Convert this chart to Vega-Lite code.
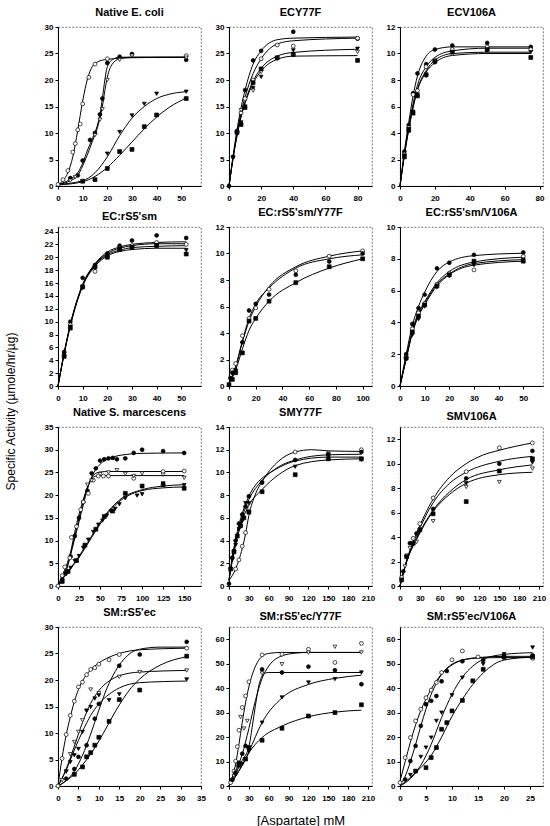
{
"$schema": "https://vega.github.io/schema/vega-lite/v6.json",
"padding": {"left": 3, "top": 6, "right": 5, "bottom": 5},
"background": "white",
"columns": 3,
"bounds": "flush",
"spacing": {"row": 41, "column": 28},
"resolve": {"scale": {"x": "independent", "y": "independent"}},
"config": {
 "font": "Liberation Sans",
 "view": {"stroke": "#555", "strokeWidth": 0.8, "strokeDash": [2, 1.5]},
 "axis": {"labelFont": "Liberation Sans", "labelFontWeight": "bold", "labelFontSize": 8, "labelColor": "black", "domainColor": "black", "domainWidth": 1, "tickColor": "black", "tickSize": 3, "grid": false, "labelFlush": false, "labelOverlap": false, "labelBound": false, "titleFont": "Liberation Sans", "titleColor": "black", "titleFontWeight": "normal"},
 "axisX": {"labelPadding": 5},
 "axisY": {"labelPadding": 2},
 "title": {"font": "Liberation Sans", "fontSize": 11, "fontWeight": "bold", "color": "black", "baseline": "alphabetic", "offset": 5.5, "frame": "group"},
 "line": {"color": "black", "strokeWidth": 1, "interpolate": "monotone"},
 "point": {"filled": true, "stroke": "black", "strokeWidth": 0.7, "size": 15, "opacity": 1}
},
"datasets": {
"f": [
{"p":1,"s":"b","x":0,"y":0.3},{"p":1,"s":"b","x":2,"y":1},{"p":1,"s":"b","x":4,"y":2.5},{"p":1,"s":"b","x":6,"y":5.5},{"p":1,"s":"b","x":8,"y":10.5},{"p":1,"s":"b","x":10,"y":16},{"p":1,"s":"b","x":12,"y":20.3},{"p":1,"s":"b","x":14,"y":22.6},{"p":1,"s":"b","x":16,"y":23.4},{"p":1,"s":"b","x":20,"y":23.9},{"p":1,"s":"b","x":30,"y":24.2},{"p":1,"s":"b","x":52,"y":24.3},
{"p":1,"s":"a","x":0,"y":0.3},{"p":1,"s":"a","x":5,"y":1.3},{"p":1,"s":"a","x":8,"y":2.5},{"p":1,"s":"a","x":10,"y":4.3},{"p":1,"s":"a","x":12,"y":6.8},{"p":1,"s":"a","x":14,"y":9},{"p":1,"s":"a","x":16,"y":11.5},{"p":1,"s":"a","x":17,"y":13.5},{"p":1,"s":"a","x":18,"y":16.5},{"p":1,"s":"a","x":19,"y":20},{"p":1,"s":"a","x":20,"y":22.5},{"p":1,"s":"a","x":22,"y":23.8},{"p":1,"s":"a","x":25,"y":24.3},{"p":1,"s":"a","x":52,"y":24.3},
{"p":1,"s":"d","x":0,"y":0.3},{"p":1,"s":"d","x":5,"y":1},{"p":1,"s":"d","x":8,"y":2},{"p":1,"s":"d","x":10,"y":3.8},{"p":1,"s":"d","x":12,"y":6},{"p":1,"s":"d","x":14,"y":8.5},{"p":1,"s":"d","x":16,"y":11},{"p":1,"s":"d","x":17,"y":12.8},{"p":1,"s":"d","x":18,"y":15},{"p":1,"s":"d","x":19,"y":18},{"p":1,"s":"d","x":20,"y":20.5},{"p":1,"s":"d","x":22,"y":23},{"p":1,"s":"d","x":25,"y":24},{"p":1,"s":"d","x":30,"y":24.3},{"p":1,"s":"d","x":52,"y":24.3},
{"p":1,"s":"c","x":0,"y":0.3},{"p":1,"s":"c","x":10,"y":1},{"p":1,"s":"c","x":15,"y":2.5},{"p":1,"s":"c","x":20,"y":5.5},{"p":1,"s":"c","x":25,"y":9.5},{"p":1,"s":"c","x":30,"y":12.8},{"p":1,"s":"c","x":35,"y":15},{"p":1,"s":"c","x":40,"y":16.5},{"p":1,"s":"c","x":45,"y":17.3},{"p":1,"s":"c","x":52,"y":17.8},
{"p":1,"s":"e","x":0,"y":0.2},{"p":1,"s":"e","x":10,"y":0.8},{"p":1,"s":"e","x":15,"y":1.8},{"p":1,"s":"e","x":20,"y":3.5},{"p":1,"s":"e","x":25,"y":5.8},{"p":1,"s":"e","x":30,"y":8.3},{"p":1,"s":"e","x":35,"y":10.8},{"p":1,"s":"e","x":40,"y":13},{"p":1,"s":"e","x":45,"y":14.8},{"p":1,"s":"e","x":52,"y":16.6},

{"p":2,"s":"a","x":0,"y":0},{"p":2,"s":"a","x":2.5,"y":5.6},{"p":2,"s":"a","x":5,"y":10.6},{"p":2,"s":"a","x":7.5,"y":14.8},{"p":2,"s":"a","x":10,"y":18.1},{"p":2,"s":"a","x":15,"y":23},{"p":2,"s":"a","x":20,"y":25.5},{"p":2,"s":"a","x":30,"y":27.6},{"p":2,"s":"a","x":40,"y":27.9},{"p":2,"s":"a","x":80,"y":28.1},
{"p":2,"s":"b","x":0,"y":0},{"p":2,"s":"b","x":2.5,"y":5.3},{"p":2,"s":"b","x":5,"y":10},{"p":2,"s":"b","x":7.5,"y":13.8},{"p":2,"s":"b","x":10,"y":16.8},{"p":2,"s":"b","x":15,"y":21.2},{"p":2,"s":"b","x":20,"y":24},{"p":2,"s":"b","x":30,"y":26.8},{"p":2,"s":"b","x":40,"y":27.4},{"p":2,"s":"b","x":80,"y":27.9},
{"p":2,"s":"c","x":0,"y":0},{"p":2,"s":"c","x":2.5,"y":5.2},{"p":2,"s":"c","x":5,"y":9.6},{"p":2,"s":"c","x":7.5,"y":13.2},{"p":2,"s":"c","x":10,"y":15.9},{"p":2,"s":"c","x":15,"y":19.8},{"p":2,"s":"c","x":20,"y":22.2},{"p":2,"s":"c","x":30,"y":24.5},{"p":2,"s":"c","x":40,"y":25.2},{"p":2,"s":"c","x":80,"y":25.8},
{"p":2,"s":"e","x":0,"y":0},{"p":2,"s":"e","x":2.5,"y":5.2},{"p":2,"s":"e","x":5,"y":9.5},{"p":2,"s":"e","x":7.5,"y":13},{"p":2,"s":"e","x":10,"y":15.6},{"p":2,"s":"e","x":15,"y":19.4},{"p":2,"s":"e","x":20,"y":21.7},{"p":2,"s":"e","x":30,"y":23.9},{"p":2,"s":"e","x":40,"y":24.5},{"p":2,"s":"e","x":80,"y":24.6},

{"p":3,"s":"a","x":0,"y":0},{"p":3,"s":"a","x":2.5,"y":2.6},{"p":3,"s":"a","x":5,"y":4.8},{"p":3,"s":"a","x":7.5,"y":6.8},{"p":3,"s":"a","x":10,"y":8.3},{"p":3,"s":"a","x":15,"y":9.8},{"p":3,"s":"a","x":20,"y":10.3},{"p":3,"s":"a","x":30,"y":10.5},{"p":3,"s":"a","x":50,"y":10.5},{"p":3,"s":"a","x":75,"y":10.5},
{"p":3,"s":"b","x":0,"y":0},{"p":3,"s":"b","x":2.5,"y":2.4},{"p":3,"s":"b","x":5,"y":4.5},{"p":3,"s":"b","x":7.5,"y":6.2},{"p":3,"s":"b","x":10,"y":7.6},{"p":3,"s":"b","x":15,"y":9},{"p":3,"s":"b","x":20,"y":9.7},{"p":3,"s":"b","x":30,"y":10.2},{"p":3,"s":"b","x":50,"y":10.4},{"p":3,"s":"b","x":75,"y":10.4},
{"p":3,"s":"c","x":0,"y":0},{"p":3,"s":"c","x":2.5,"y":2.3},{"p":3,"s":"c","x":5,"y":4.3},{"p":3,"s":"c","x":7.5,"y":6},{"p":3,"s":"c","x":10,"y":7.3},{"p":3,"s":"c","x":15,"y":8.7},{"p":3,"s":"c","x":20,"y":9.5},{"p":3,"s":"c","x":30,"y":10},{"p":3,"s":"c","x":50,"y":10.1},{"p":3,"s":"c","x":75,"y":10.1},
{"p":3,"s":"e","x":0,"y":0},{"p":3,"s":"e","x":2.5,"y":2.3},{"p":3,"s":"e","x":5,"y":4.25},{"p":3,"s":"e","x":7.5,"y":5.9},{"p":3,"s":"e","x":10,"y":7.2},{"p":3,"s":"e","x":15,"y":8.6},{"p":3,"s":"e","x":20,"y":9.3},{"p":3,"s":"e","x":30,"y":9.85},{"p":3,"s":"e","x":50,"y":10},{"p":3,"s":"e","x":75,"y":10},

{"p":4,"s":"a","x":0,"y":0},{"p":4,"s":"a","x":2.5,"y":5.2},{"p":4,"s":"a","x":5,"y":9.6},{"p":4,"s":"a","x":7.5,"y":13.1},{"p":4,"s":"a","x":10,"y":15.8},{"p":4,"s":"a","x":15,"y":19},{"p":4,"s":"a","x":20,"y":20.8},{"p":4,"s":"a","x":25,"y":21.6},{"p":4,"s":"a","x":30,"y":22},{"p":4,"s":"a","x":40,"y":22.3},{"p":4,"s":"a","x":52,"y":22.4},
{"p":4,"s":"b","x":0,"y":0},{"p":4,"s":"b","x":2.5,"y":5.1},{"p":4,"s":"b","x":5,"y":9.5},{"p":4,"s":"b","x":7.5,"y":13},{"p":4,"s":"b","x":10,"y":15.7},{"p":4,"s":"b","x":15,"y":18.9},{"p":4,"s":"b","x":20,"y":20.6},{"p":4,"s":"b","x":25,"y":21.4},{"p":4,"s":"b","x":30,"y":21.8},{"p":4,"s":"b","x":40,"y":22.1},{"p":4,"s":"b","x":52,"y":22.1},
{"p":4,"s":"c","x":0,"y":0},{"p":4,"s":"c","x":2.5,"y":5},{"p":4,"s":"c","x":5,"y":9.4},{"p":4,"s":"c","x":7.5,"y":12.9},{"p":4,"s":"c","x":10,"y":15.6},{"p":4,"s":"c","x":15,"y":18.8},{"p":4,"s":"c","x":20,"y":20.4},{"p":4,"s":"c","x":25,"y":21.1},{"p":4,"s":"c","x":30,"y":21.5},{"p":4,"s":"c","x":40,"y":21.7},{"p":4,"s":"c","x":52,"y":21.8},
{"p":4,"s":"e","x":0,"y":0},{"p":4,"s":"e","x":2.5,"y":5},{"p":4,"s":"e","x":5,"y":9.3},{"p":4,"s":"e","x":7.5,"y":12.8},{"p":4,"s":"e","x":10,"y":15.5},{"p":4,"s":"e","x":15,"y":18.6},{"p":4,"s":"e","x":20,"y":20.2},{"p":4,"s":"e","x":25,"y":20.9},{"p":4,"s":"e","x":30,"y":21.2},{"p":4,"s":"e","x":40,"y":21.4},{"p":4,"s":"e","x":52,"y":21.4},

{"p":5,"s":"b","x":0,"y":0.2},{"p":5,"s":"b","x":5,"y":1.4},{"p":5,"s":"b","x":10,"y":3.3},{"p":5,"s":"b","x":15,"y":4.9},{"p":5,"s":"b","x":20,"y":6},{"p":5,"s":"b","x":30,"y":7.5},{"p":5,"s":"b","x":50,"y":9},{"p":5,"s":"b","x":75,"y":9.8},{"p":5,"s":"b","x":100,"y":10.2},
{"p":5,"s":"a","x":0,"y":0.2},{"p":5,"s":"a","x":5,"y":1.5},{"p":5,"s":"a","x":10,"y":3.4},{"p":5,"s":"a","x":15,"y":5.1},{"p":5,"s":"a","x":20,"y":6.2},{"p":5,"s":"a","x":30,"y":7.4},{"p":5,"s":"a","x":50,"y":8.9},{"p":5,"s":"a","x":75,"y":9.6},{"p":5,"s":"a","x":100,"y":9.9},
{"p":5,"s":"e","x":0,"y":0.2},{"p":5,"s":"e","x":5,"y":1.2},{"p":5,"s":"e","x":10,"y":2.8},{"p":5,"s":"e","x":15,"y":4.2},{"p":5,"s":"e","x":20,"y":5.1},{"p":5,"s":"e","x":30,"y":6.4},{"p":5,"s":"e","x":50,"y":7.8},{"p":5,"s":"e","x":75,"y":8.9},{"p":5,"s":"e","x":100,"y":9.6},

{"p":6,"s":"a","x":0,"y":0},{"p":6,"s":"a","x":2.5,"y":2},{"p":6,"s":"a","x":5,"y":3.8},{"p":6,"s":"a","x":7.5,"y":5},{"p":6,"s":"a","x":10,"y":5.9},{"p":6,"s":"a","x":15,"y":7.2},{"p":6,"s":"a","x":20,"y":7.8},{"p":6,"s":"a","x":30,"y":8.2},{"p":6,"s":"a","x":50,"y":8.35},
{"p":6,"s":"b","x":0,"y":0},{"p":6,"s":"b","x":2.5,"y":1.75},{"p":6,"s":"b","x":5,"y":3.5},{"p":6,"s":"b","x":7.5,"y":4.6},{"p":6,"s":"b","x":10,"y":5.3},{"p":6,"s":"b","x":15,"y":6.5},{"p":6,"s":"b","x":20,"y":7.2},{"p":6,"s":"b","x":30,"y":7.8},{"p":6,"s":"b","x":50,"y":8.1},
{"p":6,"s":"c","x":0,"y":0},{"p":6,"s":"c","x":2.5,"y":1.7},{"p":6,"s":"c","x":5,"y":3.4},{"p":6,"s":"c","x":7.5,"y":4.5},{"p":6,"s":"c","x":10,"y":5.2},{"p":6,"s":"c","x":15,"y":6.4},{"p":6,"s":"c","x":20,"y":7.05},{"p":6,"s":"c","x":30,"y":7.7},{"p":6,"s":"c","x":50,"y":7.95},
{"p":6,"s":"e","x":0,"y":0},{"p":6,"s":"e","x":2.5,"y":1.7},{"p":6,"s":"e","x":5,"y":3.3},{"p":6,"s":"e","x":7.5,"y":4.4},{"p":6,"s":"e","x":10,"y":5.1},{"p":6,"s":"e","x":15,"y":6.3},{"p":6,"s":"e","x":20,"y":7},{"p":6,"s":"e","x":30,"y":7.6},{"p":6,"s":"e","x":50,"y":7.85},

{"p":7,"s":"a","x":0,"y":0},{"p":7,"s":"a","x":10,"y":3.5},{"p":7,"s":"a","x":20,"y":11},{"p":7,"s":"a","x":30,"y":18.5},{"p":7,"s":"a","x":40,"y":24},{"p":7,"s":"a","x":50,"y":26.8},{"p":7,"s":"a","x":60,"y":28},{"p":7,"s":"a","x":75,"y":28.8},{"p":7,"s":"a","x":100,"y":29.2},{"p":7,"s":"a","x":150,"y":29.3},
{"p":7,"s":"b","x":0,"y":0},{"p":7,"s":"b","x":5,"y":2.3},{"p":7,"s":"b","x":10,"y":4.5},{"p":7,"s":"b","x":15,"y":7.5},{"p":7,"s":"b","x":20,"y":12},{"p":7,"s":"b","x":25,"y":15.8},{"p":7,"s":"b","x":30,"y":19},{"p":7,"s":"b","x":35,"y":21.8},{"p":7,"s":"b","x":40,"y":23.8},{"p":7,"s":"b","x":45,"y":24.8},{"p":7,"s":"b","x":50,"y":25.1},{"p":7,"s":"b","x":60,"y":25.2},{"p":7,"s":"b","x":150,"y":25.2},
{"p":7,"s":"d","x":0,"y":0},{"p":7,"s":"d","x":10,"y":3.8},{"p":7,"s":"d","x":20,"y":10.5},{"p":7,"s":"d","x":30,"y":17.8},{"p":7,"s":"d","x":37,"y":22.5},{"p":7,"s":"d","x":40,"y":23.6},{"p":7,"s":"d","x":45,"y":24.2},{"p":7,"s":"d","x":50,"y":24.3},{"p":7,"s":"d","x":150,"y":24.3},
{"p":7,"s":"c","x":0,"y":0},{"p":7,"s":"c","x":10,"y":2.8},{"p":7,"s":"c","x":20,"y":5.2},{"p":7,"s":"c","x":30,"y":8},{"p":7,"s":"c","x":40,"y":11},{"p":7,"s":"c","x":50,"y":14},{"p":7,"s":"c","x":60,"y":16.5},{"p":7,"s":"c","x":75,"y":19.2},{"p":7,"s":"c","x":100,"y":21.2},{"p":7,"s":"c","x":125,"y":22},{"p":7,"s":"c","x":150,"y":22.3},
{"p":7,"s":"e","x":0,"y":0},{"p":7,"s":"e","x":10,"y":2.7},{"p":7,"s":"e","x":20,"y":5},{"p":7,"s":"e","x":30,"y":7.7},{"p":7,"s":"e","x":40,"y":10.7},{"p":7,"s":"e","x":50,"y":13.6},{"p":7,"s":"e","x":60,"y":16.2},{"p":7,"s":"e","x":75,"y":18.9},{"p":7,"s":"e","x":100,"y":21},{"p":7,"s":"e","x":125,"y":21.6},{"p":7,"s":"e","x":150,"y":21.8},

{"p":8,"s":"b","x":0,"y":0.5},{"p":8,"s":"b","x":10,"y":1.5},{"p":8,"s":"b","x":15,"y":2.3},{"p":8,"s":"b","x":20,"y":3.3},{"p":8,"s":"b","x":25,"y":4.6},{"p":8,"s":"b","x":30,"y":6.2},{"p":8,"s":"b","x":40,"y":8.1},{"p":8,"s":"b","x":50,"y":9.2},{"p":8,"s":"b","x":75,"y":11},{"p":8,"s":"b","x":100,"y":11.8},{"p":8,"s":"b","x":125,"y":12},{"p":8,"s":"b","x":150,"y":11.9},{"p":8,"s":"b","x":200,"y":11.85},
{"p":8,"s":"a","x":0,"y":0.5},{"p":8,"s":"a","x":5,"y":2.4},{"p":8,"s":"a","x":10,"y":3.9},{"p":8,"s":"a","x":15,"y":5.1},{"p":8,"s":"a","x":20,"y":6.1},{"p":8,"s":"a","x":30,"y":7.6},{"p":8,"s":"a","x":50,"y":9.3},{"p":8,"s":"a","x":75,"y":10.5},{"p":8,"s":"a","x":100,"y":11.1},{"p":8,"s":"a","x":150,"y":11.55},{"p":8,"s":"a","x":200,"y":11.6},
{"p":8,"s":"c","x":0,"y":0.5},{"p":8,"s":"c","x":5,"y":2.6},{"p":8,"s":"c","x":10,"y":4.1},{"p":8,"s":"c","x":15,"y":5.4},{"p":8,"s":"c","x":20,"y":6.4},{"p":8,"s":"c","x":30,"y":7.9},{"p":8,"s":"c","x":50,"y":9.5},{"p":8,"s":"c","x":60,"y":9.9},{"p":8,"s":"c","x":100,"y":11},{"p":8,"s":"c","x":150,"y":11.35},{"p":8,"s":"c","x":200,"y":11.35},
{"p":8,"s":"e","x":0,"y":0.5},{"p":8,"s":"e","x":5,"y":2.2},{"p":8,"s":"e","x":10,"y":3.6},{"p":8,"s":"e","x":15,"y":4.8},{"p":8,"s":"e","x":20,"y":5.8},{"p":8,"s":"e","x":30,"y":7.1},{"p":8,"s":"e","x":50,"y":8.5},{"p":8,"s":"e","x":75,"y":9.8},{"p":8,"s":"e","x":100,"y":10.6},{"p":8,"s":"e","x":150,"y":11.1},{"p":8,"s":"e","x":200,"y":11.2},

{"p":9,"s":"b","x":0,"y":0},{"p":9,"s":"b","x":10,"y":2.1},{"p":9,"s":"b","x":25,"y":4.3},{"p":9,"s":"b","x":50,"y":7.1},{"p":9,"s":"b","x":75,"y":8.9},{"p":9,"s":"b","x":100,"y":10},{"p":9,"s":"b","x":125,"y":10.7},{"p":9,"s":"b","x":150,"y":11.1},{"p":9,"s":"b","x":200,"y":11.7},
{"p":9,"s":"a","x":0,"y":0},{"p":9,"s":"a","x":10,"y":2},{"p":9,"s":"a","x":25,"y":4.1},{"p":9,"s":"a","x":50,"y":6.8},{"p":9,"s":"a","x":75,"y":8.4},{"p":9,"s":"a","x":100,"y":9.3},{"p":9,"s":"a","x":150,"y":10.2},{"p":9,"s":"a","x":200,"y":10.6},
{"p":9,"s":"e","x":0,"y":0},{"p":9,"s":"e","x":10,"y":2},{"p":9,"s":"e","x":25,"y":3.9},{"p":9,"s":"e","x":50,"y":6.2},{"p":9,"s":"e","x":75,"y":7.7},{"p":9,"s":"e","x":100,"y":8.7},{"p":9,"s":"e","x":150,"y":9.5},{"p":9,"s":"e","x":200,"y":9.9},
{"p":9,"s":"d","x":0,"y":0},{"p":9,"s":"d","x":10,"y":2},{"p":9,"s":"d","x":25,"y":3.8},{"p":9,"s":"d","x":50,"y":6.1},{"p":9,"s":"d","x":75,"y":7.5},{"p":9,"s":"d","x":100,"y":8.4},{"p":9,"s":"d","x":150,"y":9.1},{"p":9,"s":"d","x":200,"y":9.3},

{"p":10,"s":"b","x":0,"y":0},{"p":10,"s":"b","x":1,"y":5.3},{"p":10,"s":"b","x":2,"y":9.6},{"p":10,"s":"b","x":3,"y":13},{"p":10,"s":"b","x":4,"y":15.9},{"p":10,"s":"b","x":5,"y":18.2},{"p":10,"s":"b","x":7.5,"y":21.5},{"p":10,"s":"b","x":10,"y":23.2},{"p":10,"s":"b","x":12.5,"y":24.3},{"p":10,"s":"b","x":15,"y":25},{"p":10,"s":"b","x":20,"y":25.7},{"p":10,"s":"b","x":31.5,"y":26},
{"p":10,"s":"d","x":0,"y":0},{"p":10,"s":"d","x":2,"y":3.2},{"p":10,"s":"d","x":4,"y":7.5},{"p":10,"s":"d","x":6,"y":12},{"p":10,"s":"d","x":8,"y":15.6},{"p":10,"s":"d","x":10,"y":18},{"p":10,"s":"d","x":12.5,"y":19.8},{"p":10,"s":"d","x":15,"y":20.8},{"p":10,"s":"d","x":20,"y":21.5},{"p":10,"s":"d","x":31.5,"y":21.8},
{"p":10,"s":"a","x":0,"y":0},{"p":10,"s":"a","x":2,"y":1},{"p":10,"s":"a","x":4,"y":2.8},{"p":10,"s":"a","x":6,"y":5.8},{"p":10,"s":"a","x":8,"y":9.8},{"p":10,"s":"a","x":10,"y":14.3},{"p":10,"s":"a","x":12,"y":18.5},{"p":10,"s":"a","x":14,"y":21.6},{"p":10,"s":"a","x":16,"y":23.8},{"p":10,"s":"a","x":18,"y":25.2},{"p":10,"s":"a","x":20,"y":25.8},{"p":10,"s":"a","x":25,"y":26.2},{"p":10,"s":"a","x":31.5,"y":26.2},
{"p":10,"s":"e","x":0,"y":0},{"p":10,"s":"e","x":2,"y":1},{"p":10,"s":"e","x":4,"y":2.2},{"p":10,"s":"e","x":6,"y":4},{"p":10,"s":"e","x":8,"y":6},{"p":10,"s":"e","x":10,"y":8.5},{"p":10,"s":"e","x":12,"y":11.2},{"p":10,"s":"e","x":14,"y":14},{"p":10,"s":"e","x":16,"y":16.5},{"p":10,"s":"e","x":18,"y":18.6},{"p":10,"s":"e","x":20,"y":20.2},{"p":10,"s":"e","x":25,"y":22.8},{"p":10,"s":"e","x":31.5,"y":24.4},
{"p":10,"s":"c","x":0,"y":0},{"p":10,"s":"c","x":2,"y":3},{"p":10,"s":"c","x":4,"y":6.8},{"p":10,"s":"c","x":6,"y":10.3},{"p":10,"s":"c","x":8,"y":13.3},{"p":10,"s":"c","x":10,"y":15.5},{"p":10,"s":"c","x":12.5,"y":17.3},{"p":10,"s":"c","x":15,"y":18.5},{"p":10,"s":"c","x":20,"y":19.5},{"p":10,"s":"c","x":31.5,"y":19.8},

{"p":11,"s":"b","x":0,"y":0},{"p":11,"s":"b","x":5,"y":3.5},{"p":11,"s":"b","x":10,"y":9},{"p":11,"s":"b","x":15,"y":17},{"p":11,"s":"b","x":20,"y":26},{"p":11,"s":"b","x":25,"y":34},{"p":11,"s":"b","x":30,"y":40.5},{"p":11,"s":"b","x":40,"y":49},{"p":11,"s":"b","x":50,"y":53},{"p":11,"s":"b","x":60,"y":54.2},{"p":11,"s":"b","x":80,"y":54.6},{"p":11,"s":"b","x":200,"y":54.6},
{"p":11,"s":"d","x":0,"y":0},{"p":11,"s":"d","x":10,"y":6},{"p":11,"s":"d","x":20,"y":13},{"p":11,"s":"d","x":30,"y":23.5},{"p":11,"s":"d","x":40,"y":35},{"p":11,"s":"d","x":50,"y":44},{"p":11,"s":"d","x":60,"y":49},{"p":11,"s":"d","x":80,"y":53.2},{"p":11,"s":"d","x":100,"y":54.3},{"p":11,"s":"d","x":120,"y":54.6},{"p":11,"s":"d","x":200,"y":54.6},
{"p":11,"s":"a","x":0,"y":0},{"p":11,"s":"a","x":10,"y":5},{"p":11,"s":"a","x":20,"y":10.5},{"p":11,"s":"a","x":30,"y":16},{"p":11,"s":"a","x":35,"y":24},{"p":11,"s":"a","x":40,"y":33},{"p":11,"s":"a","x":45,"y":41},{"p":11,"s":"a","x":50,"y":45},{"p":11,"s":"a","x":55,"y":46.2},{"p":11,"s":"a","x":60,"y":46.4},{"p":11,"s":"a","x":200,"y":46.4},
{"p":11,"s":"c","x":0,"y":0},{"p":11,"s":"c","x":10,"y":4},{"p":11,"s":"c","x":20,"y":8.5},{"p":11,"s":"c","x":30,"y":14},{"p":11,"s":"c","x":50,"y":26},{"p":11,"s":"c","x":80,"y":36},{"p":11,"s":"c","x":120,"y":41.5},{"p":11,"s":"c","x":160,"y":44},{"p":11,"s":"c","x":200,"y":45.3},
{"p":11,"s":"e","x":0,"y":0},{"p":11,"s":"e","x":10,"y":4},{"p":11,"s":"e","x":20,"y":8.5},{"p":11,"s":"e","x":30,"y":13.5},{"p":11,"s":"e","x":50,"y":19.8},{"p":11,"s":"e","x":80,"y":24.5},{"p":11,"s":"e","x":120,"y":28.3},{"p":11,"s":"e","x":160,"y":30.2},{"p":11,"s":"e","x":200,"y":31},

{"p":12,"s":"b","x":0,"y":2},{"p":12,"s":"b","x":1,"y":10},{"p":12,"s":"b","x":2,"y":18},{"p":12,"s":"b","x":3,"y":25},{"p":12,"s":"b","x":4,"y":30.8},{"p":12,"s":"b","x":5,"y":35.6},{"p":12,"s":"b","x":6,"y":39.6},{"p":12,"s":"b","x":7,"y":43},{"p":12,"s":"b","x":8,"y":45.8},{"p":12,"s":"b","x":10,"y":49.5},{"p":12,"s":"b","x":12,"y":51.4},{"p":12,"s":"b","x":15,"y":52.3},{"p":12,"s":"b","x":20,"y":52.5},{"p":12,"s":"b","x":25.5,"y":52.5},
{"p":12,"s":"a","x":0,"y":0.5},{"p":12,"s":"a","x":1,"y":4},{"p":12,"s":"a","x":2,"y":10},{"p":12,"s":"a","x":3,"y":17},{"p":12,"s":"a","x":4,"y":24.5},{"p":12,"s":"a","x":5,"y":31.5},{"p":12,"s":"a","x":6,"y":37.5},{"p":12,"s":"a","x":7,"y":42},{"p":12,"s":"a","x":8,"y":45.7},{"p":12,"s":"a","x":10,"y":49.8},{"p":12,"s":"a","x":12,"y":51.5},{"p":12,"s":"a","x":15,"y":52.5},{"p":12,"s":"a","x":20,"y":53},{"p":12,"s":"a","x":25.5,"y":53},
{"p":12,"s":"c","x":0,"y":0},{"p":12,"s":"c","x":2,"y":3},{"p":12,"s":"c","x":4,"y":8.5},{"p":12,"s":"c","x":6,"y":17},{"p":12,"s":"c","x":8,"y":28},{"p":12,"s":"c","x":10,"y":37.5},{"p":12,"s":"c","x":12,"y":44.5},{"p":12,"s":"c","x":14,"y":49},{"p":12,"s":"c","x":16,"y":51.8},{"p":12,"s":"c","x":20,"y":53.8},{"p":12,"s":"c","x":25.5,"y":54.5},
{"p":12,"s":"e","x":0,"y":0},{"p":12,"s":"e","x":2,"y":3.5},{"p":12,"s":"e","x":4,"y":7.5},{"p":12,"s":"e","x":6,"y":12.5},{"p":12,"s":"e","x":8,"y":20},{"p":12,"s":"e","x":10,"y":28.5},{"p":12,"s":"e","x":12,"y":35.5},{"p":12,"s":"e","x":14,"y":41.5},{"p":12,"s":"e","x":16,"y":46.2},{"p":12,"s":"e","x":20,"y":51.5},{"p":12,"s":"e","x":25.5,"y":52.7}
],
"d": [
{"p":1,"s":"b","x":0,"y":0.3},{"p":1,"s":"b","x":2,"y":1.2},{"p":1,"s":"b","x":4,"y":2.9},{"p":1,"s":"b","x":6,"y":6.4},{"p":1,"s":"b","x":7,"y":8},{"p":1,"s":"b","x":8,"y":10.6},{"p":1,"s":"b","x":9,"y":11.7},{"p":1,"s":"b","x":10,"y":15.5},{"p":1,"s":"b","x":12.5,"y":20.5},{"p":1,"s":"b","x":15,"y":23},{"p":1,"s":"b","x":20,"y":24},{"p":1,"s":"b","x":52,"y":24.6},
{"p":1,"s":"a","x":5,"y":1.5},{"p":1,"s":"a","x":8,"y":2},{"p":1,"s":"a","x":10,"y":4.8},{"p":1,"s":"a","x":13,"y":8.7},{"p":1,"s":"a","x":15,"y":10},{"p":1,"s":"a","x":17,"y":13.5},{"p":1,"s":"a","x":18,"y":16.5},{"p":1,"s":"a","x":20,"y":23.2},{"p":1,"s":"a","x":25,"y":24.4},{"p":1,"s":"a","x":30,"y":24.9},{"p":1,"s":"a","x":52,"y":23.8},
{"p":1,"s":"d","x":5,"y":1},{"p":1,"s":"d","x":7,"y":1.7},{"p":1,"s":"d","x":15,"y":9.6},{"p":1,"s":"d","x":17,"y":12.5},{"p":1,"s":"d","x":18,"y":14.5},{"p":1,"s":"d","x":20,"y":20},{"p":1,"s":"d","x":25,"y":23.8},{"p":1,"s":"d","x":30,"y":24.6},{"p":1,"s":"d","x":52,"y":24.2},
{"p":1,"s":"c","x":20,"y":6.1},{"p":1,"s":"c","x":25,"y":10.2},{"p":1,"s":"c","x":30,"y":13.3},{"p":1,"s":"c","x":35,"y":15.5},{"p":1,"s":"c","x":40,"y":17.4},{"p":1,"s":"c","x":52,"y":17.8},
{"p":1,"s":"e","x":10,"y":0.9},{"p":1,"s":"e","x":15,"y":1.2},{"p":1,"s":"e","x":20,"y":3.3},{"p":1,"s":"e","x":25,"y":6.5},{"p":1,"s":"e","x":30,"y":6.9},{"p":1,"s":"e","x":35,"y":11.2},{"p":1,"s":"e","x":40,"y":13.4},{"p":1,"s":"e","x":52,"y":16.5},

{"p":2,"s":"a","x":0,"y":0},{"p":2,"s":"a","x":2.5,"y":5.5},{"p":2,"s":"a","x":5,"y":10.4},{"p":2,"s":"a","x":10,"y":18.1},{"p":2,"s":"a","x":15,"y":23.7},{"p":2,"s":"a","x":20,"y":25.5},{"p":2,"s":"a","x":40,"y":29.1},{"p":2,"s":"a","x":80,"y":27.8},
{"p":2,"s":"b","x":5,"y":10.2},{"p":2,"s":"b","x":7.5,"y":13.8},{"p":2,"s":"b","x":10,"y":16.5},{"p":2,"s":"b","x":15,"y":20},{"p":2,"s":"b","x":20,"y":24},{"p":2,"s":"b","x":30,"y":26.6},{"p":2,"s":"b","x":40,"y":26.4},{"p":2,"s":"b","x":80,"y":27.9},
{"p":2,"s":"c","x":2.5,"y":5.4},{"p":2,"s":"c","x":5,"y":9.8},{"p":2,"s":"c","x":7.5,"y":12},{"p":2,"s":"c","x":10,"y":15},{"p":2,"s":"c","x":15,"y":18.5},{"p":2,"s":"c","x":20,"y":20.6},{"p":2,"s":"c","x":30,"y":24},{"p":2,"s":"c","x":40,"y":25.6},{"p":2,"s":"c","x":80,"y":25.9},
{"p":2,"s":"d","x":7.5,"y":14.3},{"p":2,"s":"d","x":15,"y":18},{"p":2,"s":"d","x":20,"y":21.5},{"p":2,"s":"d","x":80,"y":25.3},
{"p":2,"s":"e","x":5,"y":10.1},{"p":2,"s":"e","x":7.5,"y":11.6},{"p":2,"s":"e","x":10,"y":14.8},{"p":2,"s":"e","x":15,"y":19.5},{"p":2,"s":"e","x":20,"y":22.1},{"p":2,"s":"e","x":30,"y":24.2},{"p":2,"s":"e","x":40,"y":24.8},{"p":2,"s":"e","x":80,"y":23.7},

{"p":3,"s":"a","x":2.5,"y":2.6},{"p":3,"s":"a","x":5,"y":4.6},{"p":3,"s":"a","x":7.5,"y":7},{"p":3,"s":"a","x":10,"y":8.5},{"p":3,"s":"a","x":15,"y":9.2},{"p":3,"s":"a","x":20,"y":10.3},{"p":3,"s":"a","x":30,"y":10.6},{"p":3,"s":"a","x":50,"y":10.8},{"p":3,"s":"a","x":75,"y":10.5},
{"p":3,"s":"b","x":2.5,"y":2.4},{"p":3,"s":"b","x":5,"y":4.4},{"p":3,"s":"b","x":7.5,"y":6.9},{"p":3,"s":"b","x":10,"y":7.2},{"p":3,"s":"b","x":15,"y":9},{"p":3,"s":"b","x":20,"y":9.5},{"p":3,"s":"b","x":30,"y":10.3},{"p":3,"s":"b","x":50,"y":10.5},{"p":3,"s":"b","x":75,"y":10.3},
{"p":3,"s":"c","x":2.5,"y":2.3},{"p":3,"s":"c","x":5,"y":4.3},{"p":3,"s":"c","x":7.5,"y":5.6},{"p":3,"s":"c","x":10,"y":6.9},{"p":3,"s":"c","x":15,"y":8.3},{"p":3,"s":"c","x":20,"y":9.3},{"p":3,"s":"c","x":30,"y":10.1},{"p":3,"s":"c","x":50,"y":10.2},{"p":3,"s":"c","x":75,"y":10.1},
{"p":3,"s":"e","x":2.5,"y":2.2},{"p":3,"s":"e","x":5,"y":4.2},{"p":3,"s":"e","x":7.5,"y":5.5},{"p":3,"s":"e","x":10,"y":6.8},{"p":3,"s":"e","x":15,"y":8.4},{"p":3,"s":"e","x":20,"y":9.4},{"p":3,"s":"e","x":30,"y":10.1},{"p":3,"s":"e","x":50,"y":10.3},{"p":3,"s":"e","x":75,"y":9.7},

{"p":4,"s":"a","x":2.5,"y":5.3},{"p":4,"s":"a","x":5,"y":10},{"p":4,"s":"a","x":10,"y":16.8},{"p":4,"s":"a","x":15,"y":18.8},{"p":4,"s":"a","x":20,"y":20.6},{"p":4,"s":"a","x":25,"y":21.8},{"p":4,"s":"a","x":30,"y":22.6},{"p":4,"s":"a","x":40,"y":23.4},{"p":4,"s":"a","x":52,"y":23},
{"p":4,"s":"b","x":2.5,"y":4.8},{"p":4,"s":"b","x":5,"y":9.5},{"p":4,"s":"b","x":10,"y":15.5},{"p":4,"s":"b","x":15,"y":17.8},{"p":4,"s":"b","x":20,"y":20.1},{"p":4,"s":"b","x":25,"y":21.5},{"p":4,"s":"b","x":30,"y":21.8},{"p":4,"s":"b","x":40,"y":22.3},{"p":4,"s":"b","x":52,"y":22},
{"p":4,"s":"c","x":2.5,"y":5},{"p":4,"s":"c","x":5,"y":9.2},{"p":4,"s":"c","x":10,"y":15.2},{"p":4,"s":"c","x":15,"y":18.3},{"p":4,"s":"c","x":20,"y":20.3},{"p":4,"s":"c","x":25,"y":21.4},{"p":4,"s":"c","x":30,"y":21.6},{"p":4,"s":"c","x":40,"y":21.9},{"p":4,"s":"c","x":52,"y":21.1},
{"p":4,"s":"e","x":2.5,"y":4.6},{"p":4,"s":"e","x":5,"y":9},{"p":4,"s":"e","x":10,"y":15.4},{"p":4,"s":"e","x":15,"y":18.5},{"p":4,"s":"e","x":20,"y":20},{"p":4,"s":"e","x":25,"y":21.2},{"p":4,"s":"e","x":30,"y":21.5},{"p":4,"s":"e","x":40,"y":21.8},{"p":4,"s":"e","x":52,"y":20.5},

{"p":5,"s":"b","x":2.5,"y":1.2},{"p":5,"s":"b","x":5,"y":1.7},{"p":5,"s":"b","x":10,"y":3.8},{"p":5,"s":"b","x":15,"y":5.1},{"p":5,"s":"b","x":20,"y":5.9},{"p":5,"s":"b","x":30,"y":7.3},{"p":5,"s":"b","x":50,"y":8.7},{"p":5,"s":"b","x":75,"y":9.8},{"p":5,"s":"b","x":100,"y":10.2},
{"p":5,"s":"a","x":1,"y":0.6},{"p":5,"s":"a","x":2.5,"y":1},{"p":5,"s":"a","x":5,"y":1.2},{"p":5,"s":"a","x":10,"y":3.3},{"p":5,"s":"a","x":15,"y":5.7},{"p":5,"s":"a","x":20,"y":6.2},{"p":5,"s":"a","x":30,"y":6.9},{"p":5,"s":"a","x":50,"y":8.4},{"p":5,"s":"a","x":75,"y":9.4},{"p":5,"s":"a","x":100,"y":10},
{"p":5,"s":"e","x":0,"y":0.1},{"p":5,"s":"e","x":2.5,"y":0.5},{"p":5,"s":"e","x":5,"y":1},{"p":5,"s":"e","x":10,"y":2.5},{"p":5,"s":"e","x":15,"y":4.9},{"p":5,"s":"e","x":20,"y":5.1},{"p":5,"s":"e","x":30,"y":6.4},{"p":5,"s":"e","x":50,"y":7.8},{"p":5,"s":"e","x":75,"y":9},{"p":5,"s":"e","x":100,"y":9.6},

{"p":6,"s":"a","x":2.5,"y":2},{"p":6,"s":"a","x":5,"y":3.9},{"p":6,"s":"a","x":7.5,"y":4.9},{"p":6,"s":"a","x":10,"y":5.75},{"p":6,"s":"a","x":15,"y":7.4},{"p":6,"s":"a","x":20,"y":7.75},{"p":6,"s":"a","x":30,"y":8.25},{"p":6,"s":"a","x":50,"y":8.4},
{"p":6,"s":"b","x":2.5,"y":1.8},{"p":6,"s":"b","x":5,"y":3.6},{"p":6,"s":"b","x":7.5,"y":4.6},{"p":6,"s":"b","x":10,"y":5.2},{"p":6,"s":"b","x":15,"y":6.4},{"p":6,"s":"b","x":20,"y":7.1},{"p":6,"s":"b","x":30,"y":7.3},{"p":6,"s":"b","x":50,"y":8.15},
{"p":6,"s":"c","x":2.5,"y":1.7},{"p":6,"s":"c","x":5,"y":3.2},{"p":6,"s":"c","x":7.5,"y":4.2},{"p":6,"s":"c","x":10,"y":5},{"p":6,"s":"c","x":15,"y":6.2},{"p":6,"s":"c","x":20,"y":6.9},{"p":6,"s":"c","x":30,"y":7.6},{"p":6,"s":"c","x":50,"y":7.95},
{"p":6,"s":"e","x":2.5,"y":1.75},{"p":6,"s":"e","x":5,"y":3.4},{"p":6,"s":"e","x":7.5,"y":4.4},{"p":6,"s":"e","x":10,"y":5.1},{"p":6,"s":"e","x":15,"y":6.3},{"p":6,"s":"e","x":20,"y":7},{"p":6,"s":"e","x":30,"y":7.85},{"p":6,"s":"e","x":50,"y":7.85},

{"p":7,"s":"a","x":5,"y":1.5},{"p":7,"s":"a","x":10,"y":3.2},{"p":7,"s":"a","x":15,"y":6.5},{"p":7,"s":"a","x":20,"y":11},{"p":7,"s":"a","x":25,"y":15},{"p":7,"s":"a","x":30,"y":18.5},{"p":7,"s":"a","x":35,"y":21},{"p":7,"s":"a","x":40,"y":24.8},{"p":7,"s":"a","x":45,"y":25.9},{"p":7,"s":"a","x":50,"y":27.6},{"p":7,"s":"a","x":55,"y":27.9},{"p":7,"s":"a","x":60,"y":28.1},{"p":7,"s":"a","x":65,"y":28.2},{"p":7,"s":"a","x":70,"y":27.9},{"p":7,"s":"a","x":80,"y":28.1},{"p":7,"s":"a","x":90,"y":29.3},{"p":7,"s":"a","x":100,"y":30},{"p":7,"s":"a","x":125,"y":29.7},{"p":7,"s":"a","x":150,"y":29.3},
{"p":7,"s":"b","x":0,"y":0},{"p":7,"s":"b","x":5,"y":2.3},{"p":7,"s":"b","x":8,"y":4.2},{"p":7,"s":"b","x":14,"y":6.2},{"p":7,"s":"b","x":16,"y":10.7},{"p":7,"s":"b","x":22,"y":13.1},{"p":7,"s":"b","x":27,"y":16.8},{"p":7,"s":"b","x":30,"y":18.5},{"p":7,"s":"b","x":36,"y":20.4},{"p":7,"s":"b","x":42,"y":23.3},{"p":7,"s":"b","x":48,"y":24.2},{"p":7,"s":"b","x":54,"y":24.2},{"p":7,"s":"b","x":60,"y":24.2},{"p":7,"s":"b","x":90,"y":23.7},{"p":7,"s":"b","x":125,"y":25.2},{"p":7,"s":"b","x":150,"y":25.3},
{"p":7,"s":"d","x":35,"y":22.3},{"p":7,"s":"d","x":40,"y":23.2},{"p":7,"s":"d","x":50,"y":24.6},{"p":7,"s":"d","x":60,"y":25},{"p":7,"s":"d","x":70,"y":25.5},{"p":7,"s":"d","x":80,"y":24.7},{"p":7,"s":"d","x":90,"y":24.2},{"p":7,"s":"d","x":100,"y":24.8},{"p":7,"s":"d","x":125,"y":24.5},{"p":7,"s":"d","x":150,"y":23.8},
{"p":7,"s":"c","x":10,"y":2.6},{"p":7,"s":"c","x":15,"y":4},{"p":7,"s":"c","x":20,"y":5.5},{"p":7,"s":"c","x":25,"y":6.6},{"p":7,"s":"c","x":30,"y":8.4},{"p":7,"s":"c","x":36,"y":10.2},{"p":7,"s":"c","x":42,"y":11.9},{"p":7,"s":"c","x":48,"y":13.5},{"p":7,"s":"c","x":53,"y":14.4},{"p":7,"s":"c","x":58,"y":15.5},{"p":7,"s":"c","x":63,"y":16.4},{"p":7,"s":"c","x":68,"y":17},{"p":7,"s":"c","x":73,"y":18},{"p":7,"s":"c","x":80,"y":19.3},{"p":7,"s":"c","x":94,"y":19.9},{"p":7,"s":"c","x":100,"y":20.2},{"p":7,"s":"c","x":125,"y":22.6},{"p":7,"s":"c","x":150,"y":22.2},
{"p":7,"s":"e","x":5,"y":1},{"p":7,"s":"e","x":12,"y":3.2},{"p":7,"s":"e","x":22,"y":5.6},{"p":7,"s":"e","x":32,"y":9},{"p":7,"s":"e","x":45,"y":12.5},{"p":7,"s":"e","x":55,"y":15.3},{"p":7,"s":"e","x":65,"y":16.5},{"p":7,"s":"e","x":80,"y":20.4},{"p":7,"s":"e","x":100,"y":22},{"p":7,"s":"e","x":125,"y":22.3},{"p":7,"s":"e","x":150,"y":21.5},

{"p":8,"s":"b","x":10,"y":1.5},{"p":8,"s":"b","x":15,"y":2.3},{"p":8,"s":"b","x":20,"y":3.5},{"p":8,"s":"b","x":25,"y":4.7},{"p":8,"s":"b","x":30,"y":6.6},{"p":8,"s":"b","x":100,"y":11.8},{"p":8,"s":"b","x":150,"y":11.7},{"p":8,"s":"b","x":200,"y":12},
{"p":8,"s":"a","x":0,"y":0.2},{"p":8,"s":"a","x":5,"y":2.5},{"p":8,"s":"a","x":7.5,"y":3.1},{"p":8,"s":"a","x":10,"y":4},{"p":8,"s":"a","x":15,"y":5.5},{"p":8,"s":"a","x":20,"y":6.3},{"p":8,"s":"a","x":25,"y":7},{"p":8,"s":"a","x":30,"y":7.9},{"p":8,"s":"a","x":50,"y":9.1},{"p":8,"s":"a","x":100,"y":11.1},{"p":8,"s":"a","x":150,"y":11.6},{"p":8,"s":"a","x":200,"y":11.8},
{"p":8,"s":"c","x":5,"y":2.3},{"p":8,"s":"c","x":10,"y":3.6},{"p":8,"s":"c","x":15,"y":5},{"p":8,"s":"c","x":20,"y":5.7},{"p":8,"s":"c","x":25,"y":7.3},{"p":8,"s":"c","x":30,"y":7.3},{"p":8,"s":"c","x":50,"y":9.1},{"p":8,"s":"c","x":100,"y":10.5},{"p":8,"s":"c","x":150,"y":11.4},{"p":8,"s":"c","x":200,"y":11.1},
{"p":8,"s":"e","x":2.5,"y":1.5},{"p":8,"s":"e","x":7.5,"y":3},{"p":8,"s":"e","x":12.5,"y":4.4},{"p":8,"s":"e","x":17.5,"y":5.3},{"p":8,"s":"e","x":22.5,"y":6},{"p":8,"s":"e","x":30,"y":6.5},{"p":8,"s":"e","x":50,"y":8.3},{"p":8,"s":"e","x":100,"y":9.8},{"p":8,"s":"e","x":150,"y":11.2},{"p":8,"s":"e","x":200,"y":11.2},

{"p":9,"s":"b","x":2.5,"y":0.7},{"p":9,"s":"b","x":10,"y":2.5},{"p":9,"s":"b","x":20,"y":3.9},{"p":9,"s":"b","x":30,"y":5.1},{"p":9,"s":"b","x":50,"y":7.2},{"p":9,"s":"b","x":100,"y":9.35},{"p":9,"s":"b","x":150,"y":11.3},{"p":9,"s":"b","x":200,"y":11.7},
{"p":9,"s":"a","x":5,"y":1.2},{"p":9,"s":"a","x":15,"y":3.5},{"p":9,"s":"a","x":25,"y":4.3},{"p":9,"s":"a","x":50,"y":6.3},{"p":9,"s":"a","x":100,"y":8.8},{"p":9,"s":"a","x":150,"y":10},{"p":9,"s":"a","x":200,"y":11.05},
{"p":9,"s":"e","x":2.5,"y":0.5},{"p":9,"s":"e","x":10,"y":2.4},{"p":9,"s":"e","x":20,"y":3.5},{"p":9,"s":"e","x":30,"y":4.6},{"p":9,"s":"e","x":50,"y":5.9},{"p":9,"s":"e","x":100,"y":6.9},{"p":9,"s":"e","x":150,"y":9.4},{"p":9,"s":"e","x":200,"y":10.4},
{"p":9,"s":"d","x":7.5,"y":1.6},{"p":9,"s":"d","x":15,"y":3.1},{"p":9,"s":"d","x":25,"y":3.6},{"p":9,"s":"d","x":50,"y":5.3},{"p":9,"s":"d","x":100,"y":8.1},{"p":9,"s":"d","x":150,"y":8.5},{"p":9,"s":"d","x":200,"y":9.6},
{"p":9,"s":"c","x":30,"y":4.5},{"p":9,"s":"c","x":100,"y":8.4},{"p":9,"s":"c","x":200,"y":10.1},

{"p":10,"s":"b","x":0,"y":0},{"p":10,"s":"b","x":1,"y":5.2},{"p":10,"s":"b","x":2,"y":9.7},{"p":10,"s":"b","x":3,"y":13.3},{"p":10,"s":"b","x":4,"y":16},{"p":10,"s":"b","x":5,"y":18.7},{"p":10,"s":"b","x":6,"y":19.6},{"p":10,"s":"b","x":7,"y":21},{"p":10,"s":"b","x":8,"y":22},{"p":10,"s":"b","x":9,"y":22.3},{"p":10,"s":"b","x":10,"y":23},{"p":10,"s":"b","x":12.5,"y":23.8},{"p":10,"s":"b","x":15,"y":24.8},{"p":10,"s":"b","x":31.5,"y":26},
{"p":10,"s":"d","x":1,"y":1.1},{"p":10,"s":"d","x":2,"y":2.8},{"p":10,"s":"d","x":3,"y":6},{"p":10,"s":"d","x":4,"y":8.3},{"p":10,"s":"d","x":5,"y":10.2},{"p":10,"s":"d","x":6,"y":12.4},{"p":10,"s":"d","x":7,"y":14.2},{"p":10,"s":"d","x":8,"y":18.2},{"p":10,"s":"d","x":10,"y":17.5},{"p":10,"s":"d","x":15,"y":20.6},{"p":10,"s":"d","x":20,"y":21.5},{"p":10,"s":"d","x":31.5,"y":21.8},
{"p":10,"s":"a","x":2,"y":1.4},{"p":10,"s":"a","x":4,"y":3.2},{"p":10,"s":"a","x":5,"y":5.5},{"p":10,"s":"a","x":7,"y":7.7},{"p":10,"s":"a","x":9,"y":12.7},{"p":10,"s":"a","x":10,"y":15.5},{"p":10,"s":"a","x":15,"y":22.7},{"p":10,"s":"a","x":20,"y":24.8},{"p":10,"s":"a","x":31.5,"y":27.2},
{"p":10,"s":"e","x":4,"y":2.2},{"p":10,"s":"e","x":6,"y":3.6},{"p":10,"s":"e","x":7,"y":5.5},{"p":10,"s":"e","x":8,"y":6.3},{"p":10,"s":"e","x":9,"y":7.7},{"p":10,"s":"e","x":10,"y":9.2},{"p":10,"s":"e","x":12.5,"y":12.2},{"p":10,"s":"e","x":15,"y":16.3},{"p":10,"s":"e","x":20,"y":18.1},{"p":10,"s":"e","x":31.5,"y":24.5},
{"p":10,"s":"c","x":2,"y":2.7},{"p":10,"s":"c","x":3,"y":4.5},{"p":10,"s":"c","x":4,"y":5.8},{"p":10,"s":"c","x":5,"y":7},{"p":10,"s":"c","x":6,"y":10.2},{"p":10,"s":"c","x":7,"y":14.2},{"p":10,"s":"c","x":8,"y":14.9},{"p":10,"s":"c","x":9,"y":16.5},{"p":10,"s":"c","x":10,"y":17.1},{"p":10,"s":"c","x":12.5,"y":16.2},{"p":10,"s":"c","x":15,"y":17.3},{"p":10,"s":"c","x":31.5,"y":20.1},

{"p":11,"s":"b","x":2.5,"y":1.4},{"p":11,"s":"b","x":5,"y":2.7},{"p":11,"s":"b","x":7.5,"y":6.1},{"p":11,"s":"b","x":10,"y":10.2},{"p":11,"s":"b","x":12.5,"y":16.1},{"p":11,"s":"b","x":15,"y":22.8},{"p":11,"s":"b","x":20,"y":32.1},{"p":11,"s":"b","x":25,"y":36.8},{"p":11,"s":"b","x":30,"y":42.6},{"p":11,"s":"b","x":50,"y":53.6},{"p":11,"s":"b","x":80,"y":53.9},{"p":11,"s":"b","x":120,"y":55.9},{"p":11,"s":"b","x":160,"y":50.5},{"p":11,"s":"b","x":200,"y":58.3},
{"p":11,"s":"d","x":7.5,"y":4.1},{"p":11,"s":"d","x":12.5,"y":7.8},{"p":11,"s":"d","x":17.5,"y":28.2},{"p":11,"s":"d","x":22.5,"y":23.5},{"p":11,"s":"d","x":27.5,"y":26.6},{"p":11,"s":"d","x":50,"y":46},{"p":11,"s":"d","x":80,"y":49.8},{"p":11,"s":"d","x":120,"y":54.5},{"p":11,"s":"d","x":160,"y":56.9},{"p":11,"s":"d","x":200,"y":54.6},
{"p":11,"s":"a","x":5,"y":2.5},{"p":11,"s":"a","x":10,"y":5.5},{"p":11,"s":"a","x":15,"y":9.5},{"p":11,"s":"a","x":20,"y":13.2},{"p":11,"s":"a","x":25,"y":16.4},{"p":11,"s":"a","x":50,"y":47.7},{"p":11,"s":"a","x":80,"y":46.4},{"p":11,"s":"a","x":120,"y":48.8},{"p":11,"s":"a","x":160,"y":47.3},{"p":11,"s":"a","x":200,"y":41.6},
{"p":11,"s":"c","x":10,"y":4.5},{"p":11,"s":"c","x":20,"y":9},{"p":11,"s":"c","x":30,"y":14.3},{"p":11,"s":"c","x":50,"y":25.9},{"p":11,"s":"c","x":80,"y":36.2},{"p":11,"s":"c","x":120,"y":42.3},{"p":11,"s":"c","x":160,"y":43.7},{"p":11,"s":"c","x":200,"y":46.4},
{"p":11,"s":"e","x":15,"y":8.5},{"p":11,"s":"e","x":25,"y":11},{"p":11,"s":"e","x":30,"y":15.7},{"p":11,"s":"e","x":50,"y":18.7},{"p":11,"s":"e","x":80,"y":23.6},{"p":11,"s":"e","x":120,"y":28.6},{"p":11,"s":"e","x":160,"y":30},{"p":11,"s":"e","x":200,"y":33.2},

{"p":12,"s":"b","x":0,"y":1.4},{"p":12,"s":"b","x":1,"y":11.6},{"p":12,"s":"b","x":2,"y":19.8},{"p":12,"s":"b","x":3,"y":26.6},{"p":12,"s":"b","x":4,"y":31.4},{"p":12,"s":"b","x":5,"y":36.1},{"p":12,"s":"b","x":6,"y":39.2},{"p":12,"s":"b","x":7,"y":42.3},{"p":12,"s":"b","x":8,"y":46.4},{"p":12,"s":"b","x":10,"y":51.6},{"p":12,"s":"b","x":12,"y":55.2},{"p":12,"s":"b","x":15,"y":52.8},{"p":12,"s":"b","x":20,"y":52.8},{"p":12,"s":"b","x":25.5,"y":52.2},
{"p":12,"s":"a","x":1,"y":2.7},{"p":12,"s":"a","x":2,"y":10.2},{"p":12,"s":"a","x":3,"y":16.4},{"p":12,"s":"a","x":4,"y":24.6},{"p":12,"s":"a","x":5,"y":33.4},{"p":12,"s":"a","x":6,"y":34.8},{"p":12,"s":"a","x":7,"y":36.8},{"p":12,"s":"a","x":8,"y":42.8},{"p":12,"s":"a","x":9,"y":47},{"p":12,"s":"a","x":12,"y":51},{"p":12,"s":"a","x":16,"y":51.4},{"p":12,"s":"a","x":20,"y":52.5},{"p":12,"s":"a","x":25.5,"y":53.4},
{"p":12,"s":"c","x":2,"y":4.5},{"p":12,"s":"c","x":4,"y":11.9},{"p":12,"s":"c","x":5,"y":15.7},{"p":12,"s":"c","x":6,"y":19.8},{"p":12,"s":"c","x":7,"y":26.6},{"p":12,"s":"c","x":8,"y":30},{"p":12,"s":"c","x":10,"y":37.1},{"p":12,"s":"c","x":12,"y":44.3},{"p":12,"s":"c","x":16,"y":49.8},{"p":12,"s":"c","x":20,"y":53.9},{"p":12,"s":"c","x":25.5,"y":56.6},
{"p":12,"s":"e","x":3,"y":6.1},{"p":12,"s":"e","x":5,"y":7.5},{"p":12,"s":"e","x":6,"y":11.6},{"p":12,"s":"e","x":7,"y":15.7},{"p":12,"s":"e","x":8,"y":23.2},{"p":12,"s":"e","x":9,"y":25.9},{"p":12,"s":"e","x":10,"y":30.7},{"p":12,"s":"e","x":12,"y":35},{"p":12,"s":"e","x":14,"y":43},{"p":12,"s":"e","x":16,"y":47.7},{"p":12,"s":"e","x":20,"y":52.8},{"p":12,"s":"e","x":25.5,"y":52.8}
]
},
"concat": [
{"title": "Native E. coli", "width": 143, "height": 159,
 "encoding": {"x": {"field": "x", "type": "quantitative", "scale": {"domain": [0, 58], "nice": false}, "axis": {"values": [0,10,20,30,40,50], "title": null}},
  "y": {"field": "y", "type": "quantitative", "scale": {"domain": [0, 30], "nice": false}, "axis": {"values": [0,5,10,15,20,25,30], "title": null}}},
 "layer": [
  {"data": {"name": "f"}, "transform": [{"filter": "datum.p==1"}], "mark": "line", "encoding": {"detail": {"field": "s"}}},
  {"data": {"name": "d"}, "transform": [{"filter": "datum.p==1"}], "mark": "point", "encoding": {"shape": {"field": "s", "type": "nominal", "scale": {"domain": ["a","b","c","d","e"], "range": ["circle","circle","triangle-down","triangle-down","square"]}, "legend": null}, "fill": {"field": "s", "type": "nominal", "scale": {"domain": ["a","b","c","d","e"], "range": ["black","white","black","white","black"]}, "legend": null}}}
 ]},
{"title": "ECY77F", "width": 143, "height": 159,
 "encoding": {"x": {"field": "x", "type": "quantitative", "scale": {"domain": [0, 89], "nice": false}, "axis": {"values": [0,20,40,60,80], "title": null}},
  "y": {"field": "y", "type": "quantitative", "scale": {"domain": [0, 30], "nice": false}, "axis": {"values": [0,5,10,15,20,25,30], "title": null}}},
 "layer": [
  {"data": {"name": "f"}, "transform": [{"filter": "datum.p==2"}], "mark": "line", "encoding": {"detail": {"field": "s"}}},
  {"data": {"name": "d"}, "transform": [{"filter": "datum.p==2"}], "mark": "point", "encoding": {"shape": {"field": "s", "type": "nominal", "scale": {"domain": ["a","b","c","d","e"], "range": ["circle","circle","triangle-down","triangle-down","square"]}, "legend": null}, "fill": {"field": "s", "type": "nominal", "scale": {"domain": ["a","b","c","d","e"], "range": ["black","white","black","white","black"]}, "legend": null}}}
 ]},
{"title": "ECV106A", "width": 143, "height": 159,
 "encoding": {"x": {"field": "x", "type": "quantitative", "scale": {"domain": [0, 82], "nice": false}, "axis": {"values": [0,20,40,60,80], "title": null}},
  "y": {"field": "y", "type": "quantitative", "scale": {"domain": [0, 12], "nice": false}, "axis": {"values": [0,2,4,6,8,10,12], "title": null}}},
 "layer": [
  {"data": {"name": "f"}, "transform": [{"filter": "datum.p==3"}], "mark": "line", "encoding": {"detail": {"field": "s"}}},
  {"data": {"name": "d"}, "transform": [{"filter": "datum.p==3"}], "mark": "point", "encoding": {"shape": {"field": "s", "type": "nominal", "scale": {"domain": ["a","b","c","d","e"], "range": ["circle","circle","triangle-down","triangle-down","square"]}, "legend": null}, "fill": {"field": "s", "type": "nominal", "scale": {"domain": ["a","b","c","d","e"], "range": ["black","white","black","white","black"]}, "legend": null}}}
 ]},
{"title": "EC:rS5'sm", "width": 143, "height": 159,
 "encoding": {"x": {"field": "x", "type": "quantitative", "scale": {"domain": [0, 58], "nice": false}, "axis": {"values": [0,10,20,30,40,50], "title": null}},
  "y": {"field": "y", "type": "quantitative", "scale": {"domain": [0, 24.7], "nice": false}, "axis": {"values": [0,2,4,6,8,10,12,14,16,18,20,22,24], "title": "Specific Activity (µmole/hr/µg)", "titleFontSize": 12, "titleX": -41, "titleY": 184, "titleAlign": "center"}}},
 "layer": [
  {"data": {"name": "f"}, "transform": [{"filter": "datum.p==4"}], "mark": "line", "encoding": {"detail": {"field": "s"}}},
  {"data": {"name": "d"}, "transform": [{"filter": "datum.p==4"}], "mark": "point", "encoding": {"shape": {"field": "s", "type": "nominal", "scale": {"domain": ["a","b","c","d","e"], "range": ["circle","circle","triangle-down","triangle-down","square"]}, "legend": null}, "fill": {"field": "s", "type": "nominal", "scale": {"domain": ["a","b","c","d","e"], "range": ["black","white","black","white","black"]}, "legend": null}}}
 ]},
{"title": "EC:rS5'sm/Y77F", "width": 143, "height": 159,
 "encoding": {"x": {"field": "x", "type": "quantitative", "scale": {"domain": [0, 107], "nice": false}, "axis": {"values": [0,20,40,60,80,100], "title": null}},
  "y": {"field": "y", "type": "quantitative", "scale": {"domain": [0, 12], "nice": false}, "axis": {"values": [0,2,4,6,8,10,12], "title": null}}},
 "layer": [
  {"data": {"name": "f"}, "transform": [{"filter": "datum.p==5"}], "mark": "line", "encoding": {"detail": {"field": "s"}}},
  {"data": {"name": "d"}, "transform": [{"filter": "datum.p==5"}], "mark": "point", "encoding": {"shape": {"field": "s", "type": "nominal", "scale": {"domain": ["a","b","c","d","e"], "range": ["circle","circle","triangle-down","triangle-down","square"]}, "legend": null}, "fill": {"field": "s", "type": "nominal", "scale": {"domain": ["a","b","c","d","e"], "range": ["black","white","black","white","black"]}, "legend": null}}}
 ]},
{"title": "EC:rS5'sm/V106A", "width": 143, "height": 159,
 "encoding": {"x": {"field": "x", "type": "quantitative", "scale": {"domain": [0, 58], "nice": false}, "axis": {"values": [0,10,20,30,40,50], "title": null}},
  "y": {"field": "y", "type": "quantitative", "scale": {"domain": [0, 10], "nice": false}, "axis": {"values": [0,2,4,6,8,10], "title": null}}},
 "layer": [
  {"data": {"name": "f"}, "transform": [{"filter": "datum.p==6"}], "mark": "line", "encoding": {"detail": {"field": "s"}}},
  {"data": {"name": "d"}, "transform": [{"filter": "datum.p==6"}], "mark": "point", "encoding": {"shape": {"field": "s", "type": "nominal", "scale": {"domain": ["a","b","c","d","e"], "range": ["circle","circle","triangle-down","triangle-down","square"]}, "legend": null}, "fill": {"field": "s", "type": "nominal", "scale": {"domain": ["a","b","c","d","e"], "range": ["black","white","black","white","black"]}, "legend": null}}}
 ]},
{"title": "Native S. marcescens", "width": 143, "height": 159,
 "encoding": {"x": {"field": "x", "type": "quantitative", "scale": {"domain": [0, 170], "nice": false}, "axis": {"values": [0,25,50,75,100,125,150], "title": null}},
  "y": {"field": "y", "type": "quantitative", "scale": {"domain": [0, 35], "nice": false}, "axis": {"values": [0,5,10,15,20,25,30,35], "title": null}}},
 "layer": [
  {"data": {"name": "f"}, "transform": [{"filter": "datum.p==7"}], "mark": "line", "encoding": {"detail": {"field": "s"}}},
  {"data": {"name": "d"}, "transform": [{"filter": "datum.p==7"}], "mark": "point", "encoding": {"shape": {"field": "s", "type": "nominal", "scale": {"domain": ["a","b","c","d","e"], "range": ["circle","circle","triangle-down","triangle-down","square"]}, "legend": null}, "fill": {"field": "s", "type": "nominal", "scale": {"domain": ["a","b","c","d","e"], "range": ["black","white","black","white","black"]}, "legend": null}}}
 ]},
{"title": "SMY77F", "width": 143, "height": 159,
 "encoding": {"x": {"field": "x", "type": "quantitative", "scale": {"domain": [0, 216], "nice": false}, "axis": {"values": [0,30,60,90,120,150,180,210], "title": null}},
  "y": {"field": "y", "type": "quantitative", "scale": {"domain": [0, 14], "nice": false}, "axis": {"values": [0,2,4,6,8,10,12,14], "title": null}}},
 "layer": [
  {"data": {"name": "f"}, "transform": [{"filter": "datum.p==8"}], "mark": "line", "encoding": {"detail": {"field": "s"}}},
  {"data": {"name": "d"}, "transform": [{"filter": "datum.p==8"}], "mark": "point", "encoding": {"shape": {"field": "s", "type": "nominal", "scale": {"domain": ["a","b","c","d","e"], "range": ["circle","circle","triangle-down","triangle-down","square"]}, "legend": null}, "fill": {"field": "s", "type": "nominal", "scale": {"domain": ["a","b","c","d","e"], "range": ["black","white","black","white","black"]}, "legend": null}}}
 ]},
{"title": "SMV106A", "width": 143, "height": 159,
 "encoding": {"x": {"field": "x", "type": "quantitative", "scale": {"domain": [0, 216], "nice": false}, "axis": {"values": [0,30,60,90,120,150,180,210], "title": null}},
  "y": {"field": "y", "type": "quantitative", "scale": {"domain": [0, 13], "nice": false}, "axis": {"values": [0,2,4,6,8,10,12], "title": null}}},
 "layer": [
  {"data": {"name": "f"}, "transform": [{"filter": "datum.p==9"}], "mark": "line", "encoding": {"detail": {"field": "s"}}},
  {"data": {"name": "d"}, "transform": [{"filter": "datum.p==9"}], "mark": "point", "encoding": {"shape": {"field": "s", "type": "nominal", "scale": {"domain": ["a","b","c","d","e"], "range": ["circle","circle","triangle-down","triangle-down","square"]}, "legend": null}, "fill": {"field": "s", "type": "nominal", "scale": {"domain": ["a","b","c","d","e"], "range": ["black","white","black","white","black"]}, "legend": null}}}
 ]},
{"title": "SM:rS5'ec", "width": 143, "height": 159,
 "encoding": {"x": {"field": "x", "type": "quantitative", "scale": {"domain": [0, 35], "nice": false}, "axis": {"values": [0,5,10,15,20,25,30,35], "title": null}},
  "y": {"field": "y", "type": "quantitative", "scale": {"domain": [0, 30], "nice": false}, "axis": {"values": [0,5,10,15,20,25,30], "title": null}}},
 "layer": [
  {"data": {"name": "f"}, "transform": [{"filter": "datum.p==10"}], "mark": "line", "encoding": {"detail": {"field": "s"}}},
  {"data": {"name": "d"}, "transform": [{"filter": "datum.p==10"}], "mark": "point", "encoding": {"shape": {"field": "s", "type": "nominal", "scale": {"domain": ["a","b","c","d","e"], "range": ["circle","circle","triangle-down","triangle-down","square"]}, "legend": null}, "fill": {"field": "s", "type": "nominal", "scale": {"domain": ["a","b","c","d","e"], "range": ["black","white","black","white","black"]}, "legend": null}}}
 ]},
{"title": "SM:rS5'ec/Y77F", "width": 143, "height": 159,
 "encoding": {"x": {"field": "x", "type": "quantitative", "scale": {"domain": [0, 216], "nice": false}, "axis": {"values": [0,30,60,90,120,150,180,210], "title": "[Aspartate] mM", "titleFontSize": 13, "titlePadding": 12}},
  "y": {"field": "y", "type": "quantitative", "scale": {"domain": [0, 65], "nice": false}, "axis": {"values": [0,10,20,30,40,50,60], "title": null}}},
 "layer": [
  {"data": {"name": "f"}, "transform": [{"filter": "datum.p==11"}], "mark": "line", "encoding": {"detail": {"field": "s"}}},
  {"data": {"name": "d"}, "transform": [{"filter": "datum.p==11"}], "mark": "point", "encoding": {"shape": {"field": "s", "type": "nominal", "scale": {"domain": ["a","b","c","d","e"], "range": ["circle","circle","triangle-down","triangle-down","square"]}, "legend": null}, "fill": {"field": "s", "type": "nominal", "scale": {"domain": ["a","b","c","d","e"], "range": ["black","white","black","white","black"]}, "legend": null}}}
 ]},
{"title": "SM:rS5'ec/V106A", "width": 143, "height": 159,
 "encoding": {"x": {"field": "x", "type": "quantitative", "scale": {"domain": [0, 27.5], "nice": false}, "axis": {"values": [0,5,10,15,20,25], "title": null}},
  "y": {"field": "y", "type": "quantitative", "scale": {"domain": [0, 65], "nice": false}, "axis": {"values": [0,10,20,30,40,50,60], "title": null}}},
 "layer": [
  {"data": {"name": "f"}, "transform": [{"filter": "datum.p==12"}], "mark": "line", "encoding": {"detail": {"field": "s"}}},
  {"data": {"name": "d"}, "transform": [{"filter": "datum.p==12"}], "mark": "point", "encoding": {"shape": {"field": "s", "type": "nominal", "scale": {"domain": ["a","b","c","d","e"], "range": ["circle","circle","triangle-down","triangle-down","square"]}, "legend": null}, "fill": {"field": "s", "type": "nominal", "scale": {"domain": ["a","b","c","d","e"], "range": ["black","white","black","white","black"]}, "legend": null}}}
 ]}
]
}
